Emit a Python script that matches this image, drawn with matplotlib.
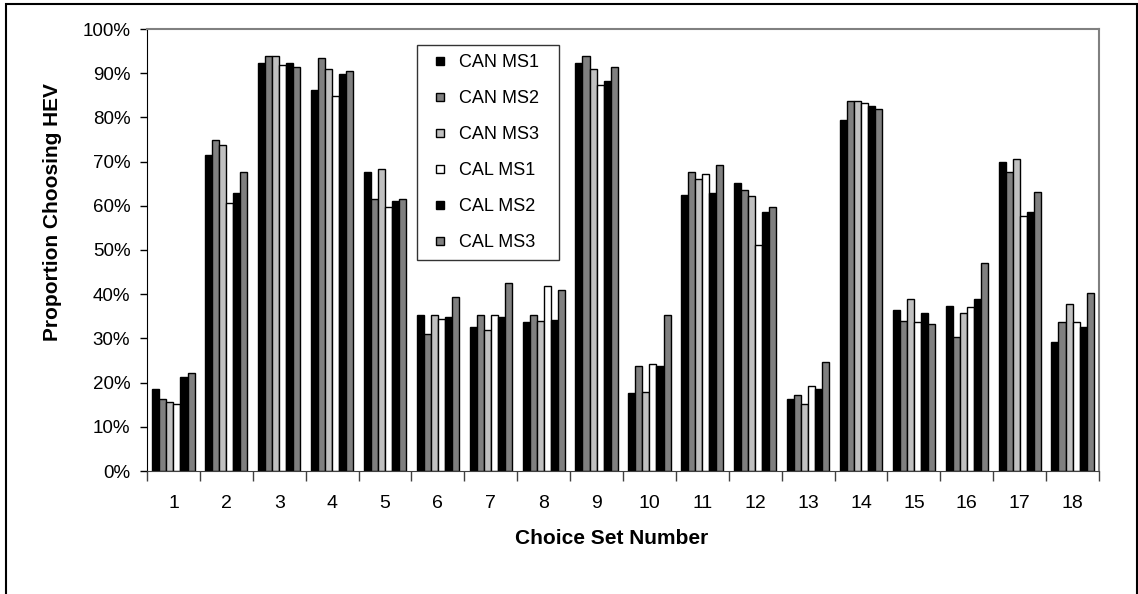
import numpy as np
import matplotlib
matplotlib.use("Agg")
import matplotlib.pyplot as plt
from matplotlib.ticker import PercentFormatter, FixedLocator
from matplotlib.patches import Rectangle
from matplotlib.lines import Line2D

plt.rcParams['font.family'] = ['Liberation Sans', 'DejaVu Sans']

choice_sets = [str(i) for i in range(1, 19)]

# proportion choosing HEV per choice set
can_ms1 = [0.185, 0.714, 0.924, 0.862, 0.676, 0.353, 0.325, 0.337, 0.924, 0.177, 0.624, 0.652, 0.164, 0.793, 0.365, 0.374, 0.698, 0.292]
can_ms2 = [0.164, 0.750, 0.939, 0.935, 0.615, 0.311, 0.353, 0.353, 0.939, 0.238, 0.676, 0.636, 0.172, 0.838, 0.340, 0.303, 0.676, 0.336]
can_ms3 = [0.155, 0.738, 0.939, 0.910, 0.684, 0.353, 0.319, 0.339, 0.910, 0.179, 0.660, 0.623, 0.152, 0.838, 0.389, 0.357, 0.705, 0.377]
cal_ms1 = [0.151, 0.607, 0.918, 0.849, 0.598, 0.344, 0.353, 0.419, 0.873, 0.242, 0.672, 0.511, 0.193, 0.832, 0.336, 0.370, 0.578, 0.336]
cal_ms2 = [0.213, 0.628, 0.924, 0.899, 0.611, 0.349, 0.349, 0.341, 0.882, 0.238, 0.628, 0.587, 0.186, 0.825, 0.357, 0.390, 0.587, 0.325]
cal_ms3 = [0.221, 0.676, 0.914, 0.906, 0.615, 0.394, 0.426, 0.410, 0.914, 0.353, 0.692, 0.598, 0.247, 0.820, 0.333, 0.471, 0.632, 0.402]

series = [can_ms1, can_ms2, can_ms3, cal_ms1, cal_ms2, cal_ms3]
names = ['CAN MS1', 'CAN MS2', 'CAN MS3', 'CAL MS1', 'CAL MS2', 'CAL MS3']
colors = ['#000000', '#808080', '#c0c0c0', '#ffffff', '#000000', '#808080']

W, H = 1138, 594
fig = plt.figure(figsize=(W / 100, H / 100), dpi=100)
ax = fig.add_axes([147 / W, (H - 471) / H, (1099 - 147) / W, (471 - 29) / H])

x = np.arange(len(choice_sets))
w = 0.8 / 6
for k in range(6):
    ax.bar(x + (k - 2.5) * w, series[k], width=w, color=colors[k],
           edgecolor='black', linewidth=1.0, label=names[k])

ax.set_xlim(-0.5, 17.5)
ax.set_ylim(0, 1)
ax.set_yticks(np.arange(0, 1.01, 0.1))
ax.yaxis.set_major_formatter(PercentFormatter(1.0, decimals=0))
ax.set_xticks(x)
ax.set_xticklabels(choice_sets)
ax.xaxis.set_minor_locator(FixedLocator(np.arange(-0.5, 18, 1)))
ax.tick_params(axis='x', which='major', length=0, pad=17, labelsize=14)
ax.tick_params(axis='x', which='minor', length=7, width=1, color='#404040', direction='out')
ax.tick_params(axis='y', length=5, width=1, direction='out', pad=7, labelsize=13.5)

for s in ['top', 'right']:
    ax.spines[s].set_color('#808080')
    ax.spines[s].set_linewidth(1.5)
ax.spines['left'].set_color('black')
ax.spines['bottom'].set_color('#404040')

# square legend keys
handles = [Line2D([], [], marker='s', linestyle='none', markersize=6,
                  markerfacecolor=c, markeredgecolor='black', markeredgewidth=1)
           for c in colors]
lx0 = (417 - 147) / 952
ly1 = (471 - 45) / 442
lw = (559 - 417) / 952
lh = (261 - 45) / 442
leg = ax.legend(handles, names, loc='upper left', mode='expand',
                bbox_to_anchor=(lx0, ly1 - lh, lw, lh),
                fontsize=13, frameon=True, fancybox=False, edgecolor='black',
                handlelength=1.6, handletextpad=0.25,
                labelspacing=1.05, borderpad=0.5, borderaxespad=0)
leg.get_frame().set_linewidth(1.0)

fig.text(52 / W, 1 - 212 / H, 'Proportion Choosing HEV', rotation=90,
         ha='center', va='center', fontsize=15, fontweight='bold')
fig.text(612 / W, 1 - 539 / H, 'Choice Set Number', ha='center', va='center',
         fontsize=15, fontweight='bold')

# outer chart border (bottom edge falls outside the picture)
fig.add_artist(Rectangle((6 / W, -0.1), (1137 - 6) / W, 1.1 - 4 / H,
                         transform=fig.transFigure, fill=False,
                         edgecolor='black', linewidth=1.5, clip_on=False))

fig.savefig('out.png', dpi=100)
